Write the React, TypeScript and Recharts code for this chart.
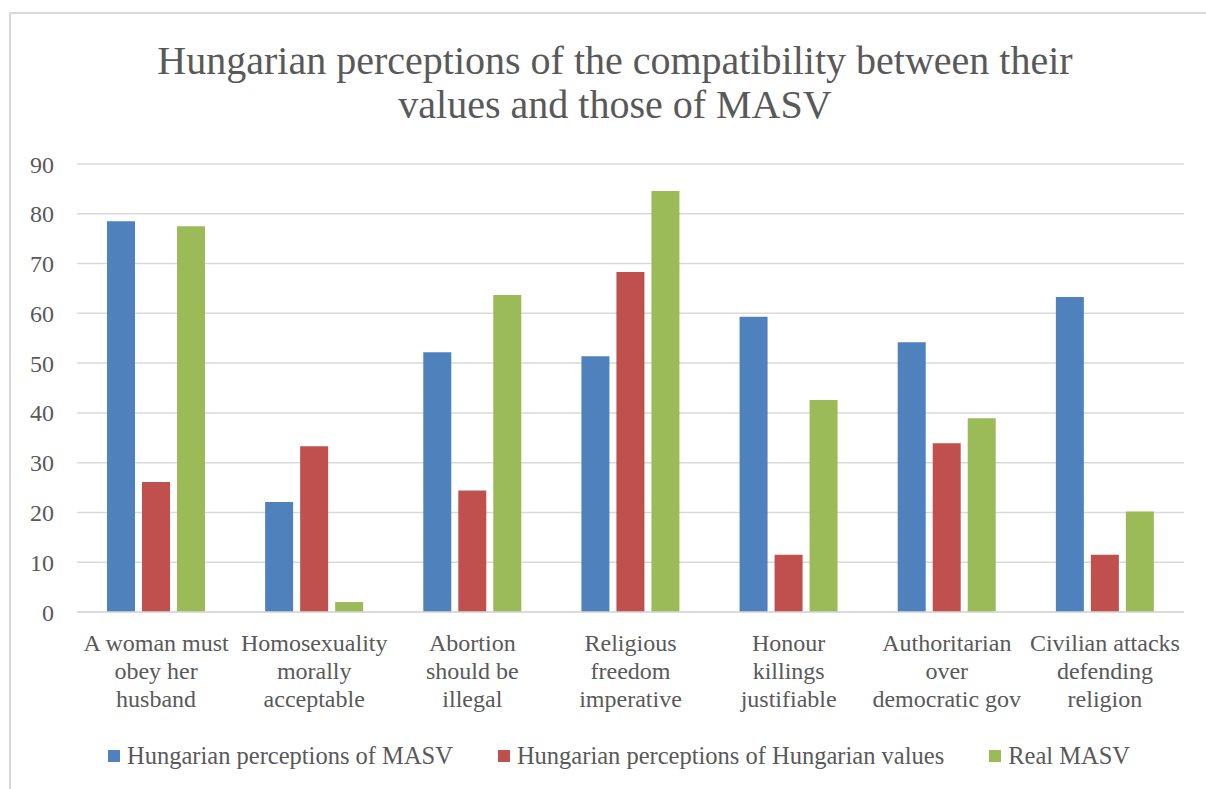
import { BarChart, Bar, XAxis, YAxis, CartesianGrid } from 'recharts'

const categories = [
  'A woman must\nobey her\nhusband',
  'Homosexuality\nmorally\nacceptable',
  'Abortion\nshould be\nillegal',
  'Religious\nfreedom\nimperative',
  'Honour\nkillings\njustifiable',
  'Authoritarian\nover\ndemocratic gov',
  'Civilian attacks\ndefending\nreligion',
]

const seriesNames = [
  'Hungarian perceptions of MASV',
  'Hungarian perceptions of Hungarian values',
  'Real MASV',
]
const seriesColors = ['#4F81BD', '#C0504D', '#9BBB59']

const perceivedMasv = [78.5, 22.1, 52.2, 51.4, 59.3, 54.2, 63.3]
const perceivedHungarian = [26.1, 33.3, 24.4, 68.3, 11.5, 33.9, 11.5]
const realMasv = [77.5, 2.0, 63.7, 84.6, 42.6, 38.9, 20.2]

const yTicks = [0, 10, 20, 30, 40, 50, 60, 70, 80, 90]

const FONT = '"Liberation Serif", serif'
const TEXT = '#595959'
const GRID = '#D9D9D9'

const data = categories.map((name, i) => ({
  name,
  s0: perceivedMasv[i],
  s1: perceivedHungarian[i],
  s2: realMasv[i],
}))

// multi-line category label
function CategoryTick({ x, y, payload }: { x?: number; y?: number; payload?: { value: string } }) {
  const lines = String(payload?.value ?? '').split('\n')
  return (
    <text x={x} y={y} textAnchor="middle" fill={TEXT} fontSize={24} fontFamily={FONT}>
      {lines.map((line, i) => (
        <tspan key={i} x={x} dy={i === 0 ? 31 : 28}>
          {line}
        </tspan>
      ))}
    </text>
  )
}

export default function App() {
  return (
    <div style={{ position: 'absolute', left: 0, top: 0, width: 1206, height: 789, background: '#fff', overflow: 'hidden' }}>
      {/* chart frame, only left and top edges visible */}
      <div
        style={{
          position: 'absolute',
          left: 9,
          top: 12,
          width: 1300,
          height: 900,
          borderLeft: `2px solid ${GRID}`,
          borderTop: `2px solid ${GRID}`,
        }}
      />

      <div
        style={{
          position: 'absolute',
          left: 0,
          top: 39,
          width: 1230,
          textAlign: 'center',
          fontFamily: FONT,
          fontSize: 40,
          lineHeight: '44px',
          color: TEXT,
        }}
      >
        Hungarian perceptions of the compatibility between their
        <br />
        values and those of MASV
      </div>

      <div style={{ position: 'absolute', left: 0, top: 0 }}>
        <BarChart
          width={1206}
          height={789}
          data={data}
          margin={{ top: 164, right: 22, left: 0, bottom: 77 }}
          barCategoryGap={30}
          barGap={7}
        >
          <CartesianGrid vertical={false} stroke={GRID} strokeWidth={1.5} />
          <XAxis
            dataKey="name"
            tick={<CategoryTick />}
            tickLine={false}
            axisLine={{ stroke: GRID, strokeWidth: 1.5 }}
            interval={0}
            height={100}
          />
          <YAxis
            domain={[0, 90]}
            ticks={yTicks}
            interval={0}
            width={77}
            tickLine={false}
            axisLine={false}
            tickMargin={17}
            tick={{ fill: TEXT, fontSize: 24, fontFamily: FONT }}
          />
          <Bar dataKey="s0" fill={seriesColors[0]} isAnimationActive={false} />
          <Bar dataKey="s1" fill={seriesColors[1]} isAnimationActive={false} />
          <Bar dataKey="s2" fill={seriesColors[2]} isAnimationActive={false} />
        </BarChart>
      </div>

      {/* legend */}
      <div
        style={{
          position: 'absolute',
          left: 0,
          top: 741,
          width: 1238,
          display: 'flex',
          justifyContent: 'center',
          gap: 45,
          fontFamily: FONT,
          fontSize: 24.5,
          lineHeight: '30px',
          color: TEXT,
        }}
      >
        {seriesNames.map((name, i) => (
          <div key={name} style={{ display: 'flex', alignItems: 'center', gap: 7 }}>
            <span style={{ width: 12, height: 12, background: seriesColors[i], display: 'inline-block' }} />
            <span>{name}</span>
          </div>
        ))}
      </div>
    </div>
  )
}
